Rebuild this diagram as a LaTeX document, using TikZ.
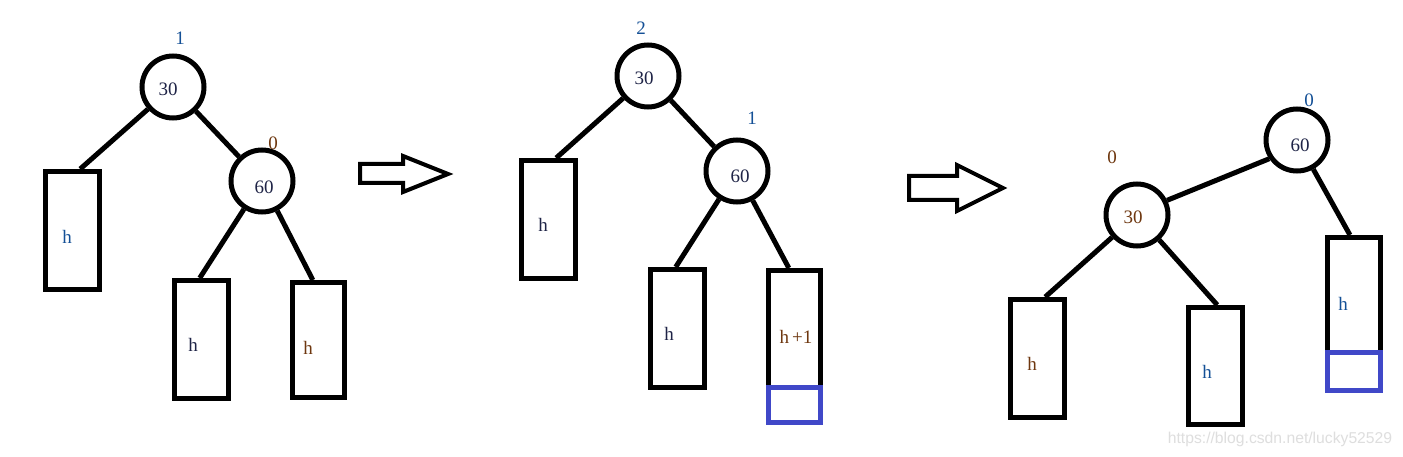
\documentclass[tikz,border=0pt]{standalone}
\usepackage{fontspec}
\setmainfont{Liberation Serif}
\newfontfamily\wmfont{Liberation Sans}
\usetikzlibrary{calc}
\definecolor{bluebox}{RGB}{64,72,200}
\definecolor{txtdark}{RGB}{30,35,70}
\definecolor{txtblue}{RGB}{20,80,150}
\definecolor{txtbrown}{RGB}{110,55,15}
\definecolor{wmgray}{RGB}{222,222,222}
\tikzset{
  treecircle/.style={circle,draw=black,line width=5pt,minimum size=62pt,inner sep=0pt},
  treebox/.style={rectangle,draw=black,line width=5pt,minimum width=54pt,minimum height=118pt,inner sep=0pt},
  extrabox/.style={rectangle,draw=bluebox,line width=5pt,minimum width=52pt,minimum height=35pt,inner sep=0pt},
  edge/.style={line width=5pt,black},
  blockarrow/.style={draw=black,line width=4pt,line join=miter},
  nodetext/.style={inner sep=0pt,font=\fontsize{19}{22}\selectfont,text=txtdark},
  bftext/.style={inner sep=0pt,font=\fontsize{19}{22}\selectfont},
}
\begin{document}
\begin{tikzpicture}[x=1pt,y=-1pt]
\useasboundingbox (0,0) rectangle (1403,457);
\fill[white] (0,0) rectangle (1403,457);

% ---------- diagram 1 ----------
\node[treecircle] (a30) at (173,87) {};
\node[treecircle] (a60) at (262,181) {};
\node[treebox] (ab1) at (72.5,230.5) {};
\node[treebox] (ab2) at (201.5,339.5) {};
\node[treebox,minimum width=52pt,minimum height=115pt] (ab3) at (318.5,340) {};
\coordinate (ab1t) at ($(ab1.north west)!0.63!(ab1.north east)$);
\coordinate (ab2t) at ($(ab2.north west)!0.47!(ab2.north east)$);
\coordinate (ab3t) at ($(ab3.north west)!0.40!(ab3.north east)$);
\draw[edge] (a30) -- (ab1t);
\draw[edge] (a30) -- (a60);
\draw[edge] (a60) -- (ab2t);
\draw[edge] (a60) -- (ab3t);
\node[nodetext] (a30t) at (168,89) {30};
\node[nodetext] (a60t) at (264,187) {60};
\node[bftext,text=txtblue] (a30bf) at (180,38) {1};
\node[bftext,text=txtbrown] (a60bf) at (273,143) {0};
\node[nodetext,text=txtblue] (ab1h) at (67,237) {h};
\node[nodetext] (ab2h) at (193,345) {h};
\node[nodetext,text=txtbrown] (ab3h) at (308,348) {h};

% arrow 1
\draw[blockarrow] (360,164) -- (403,164) -- (403,156) -- (448,174) -- (403,192) -- (403,183) -- (360,183) -- cycle;

% ---------- diagram 2 ----------
\node[treecircle] (b30) at (648,76) {};
\node[treecircle] (b60) at (737,171) {};
\node[treebox] (bb1) at (548.5,219.5) {};
\node[treebox] (bb2) at (677.5,328.5) {};
\node[treebox,minimum width=52pt,minimum height=117pt] (bb3) at (794.5,329) {};
\node[extrabox] (bbx) at (794.5,405) {};
\coordinate (bb1t) at ($(bb1.north west)!0.63!(bb1.north east)$);
\coordinate (bb2t) at ($(bb2.north west)!0.47!(bb2.north east)$);
\coordinate (bb3t) at ($(bb3.north west)!0.40!(bb3.north east)$);
\draw[edge] (b30) -- (bb1t);
\draw[edge] (b30) -- (b60);
\draw[edge] (b60) -- (bb2t);
\draw[edge] (b60) -- (bb3t);
\node[nodetext] (b30t) at (644,78) {30};
\node[nodetext] (b60t) at (740,176) {60};
\node[bftext,text=txtblue] (b30bf) at (641,28) {2};
\node[bftext,text=txtblue] (b60bf) at (752,118) {1};
\node[nodetext] (bb1h) at (543,225) {h};
\node[nodetext] (bb2h) at (669,334) {h};
\node[nodetext,text=txtbrown] (bb3h) at (796,337) {h\,+1};

% arrow 2
\draw[blockarrow] (909,176) -- (957,176) -- (957,165) -- (1003,188) -- (957,211) -- (957,200) -- (909,200) -- cycle;

% ---------- diagram 3 ----------
\node[treecircle] (c60) at (1297,140) {};
\node[treecircle] (c30) at (1137,215) {};
\node[treebox] (cb1) at (1037.5,358.5) {};
\node[treebox,minimum height=117pt] (cb2) at (1215.5,366) {};
\node[treebox,minimum width=53pt,minimum height=115pt] (cb3) at (1354,295) {};
\node[extrabox,minimum width=53pt,minimum height=38pt] (cbx) at (1354,371.5) {};
\coordinate (cb1t) at ($(cb1.north west)!0.63!(cb1.north east)$);
\coordinate (cb2t) at ($(cb2.north west)!0.53!(cb2.north east)$);
\coordinate (cb3t) at ($(cb3.north west)!0.43!(cb3.north east)$);
\draw[edge] (c60.214) -- (c30.26);
\draw[edge] (c30) -- (cb1t);
\draw[edge] (c30) -- (cb2t);
\draw[edge] (c60) -- (cb3t);
\node[nodetext] (c60t) at (1300,145) {60};
\node[nodetext,text=txtbrown] (c30t) at (1133,217) {30};
\node[bftext,text=txtblue] (c60bf) at (1309,100) {0};
\node[bftext,text=txtbrown] (c30bf) at (1112,157) {0};
\node[nodetext,text=txtbrown] (cb1h) at (1032,364) {h};
\node[nodetext,text=txtblue] (cb2h) at (1207,372) {h};
\node[nodetext,text=txtblue] (cb3h) at (1343,304) {h};

% watermark
\node[inner sep=0pt,text=wmgray,font=\wmfont\fontsize{15.7}{18}\selectfont] (wm) at (1280,439) {https://blog.csdn.net/lucky52529};
\end{tikzpicture}
\end{document}
